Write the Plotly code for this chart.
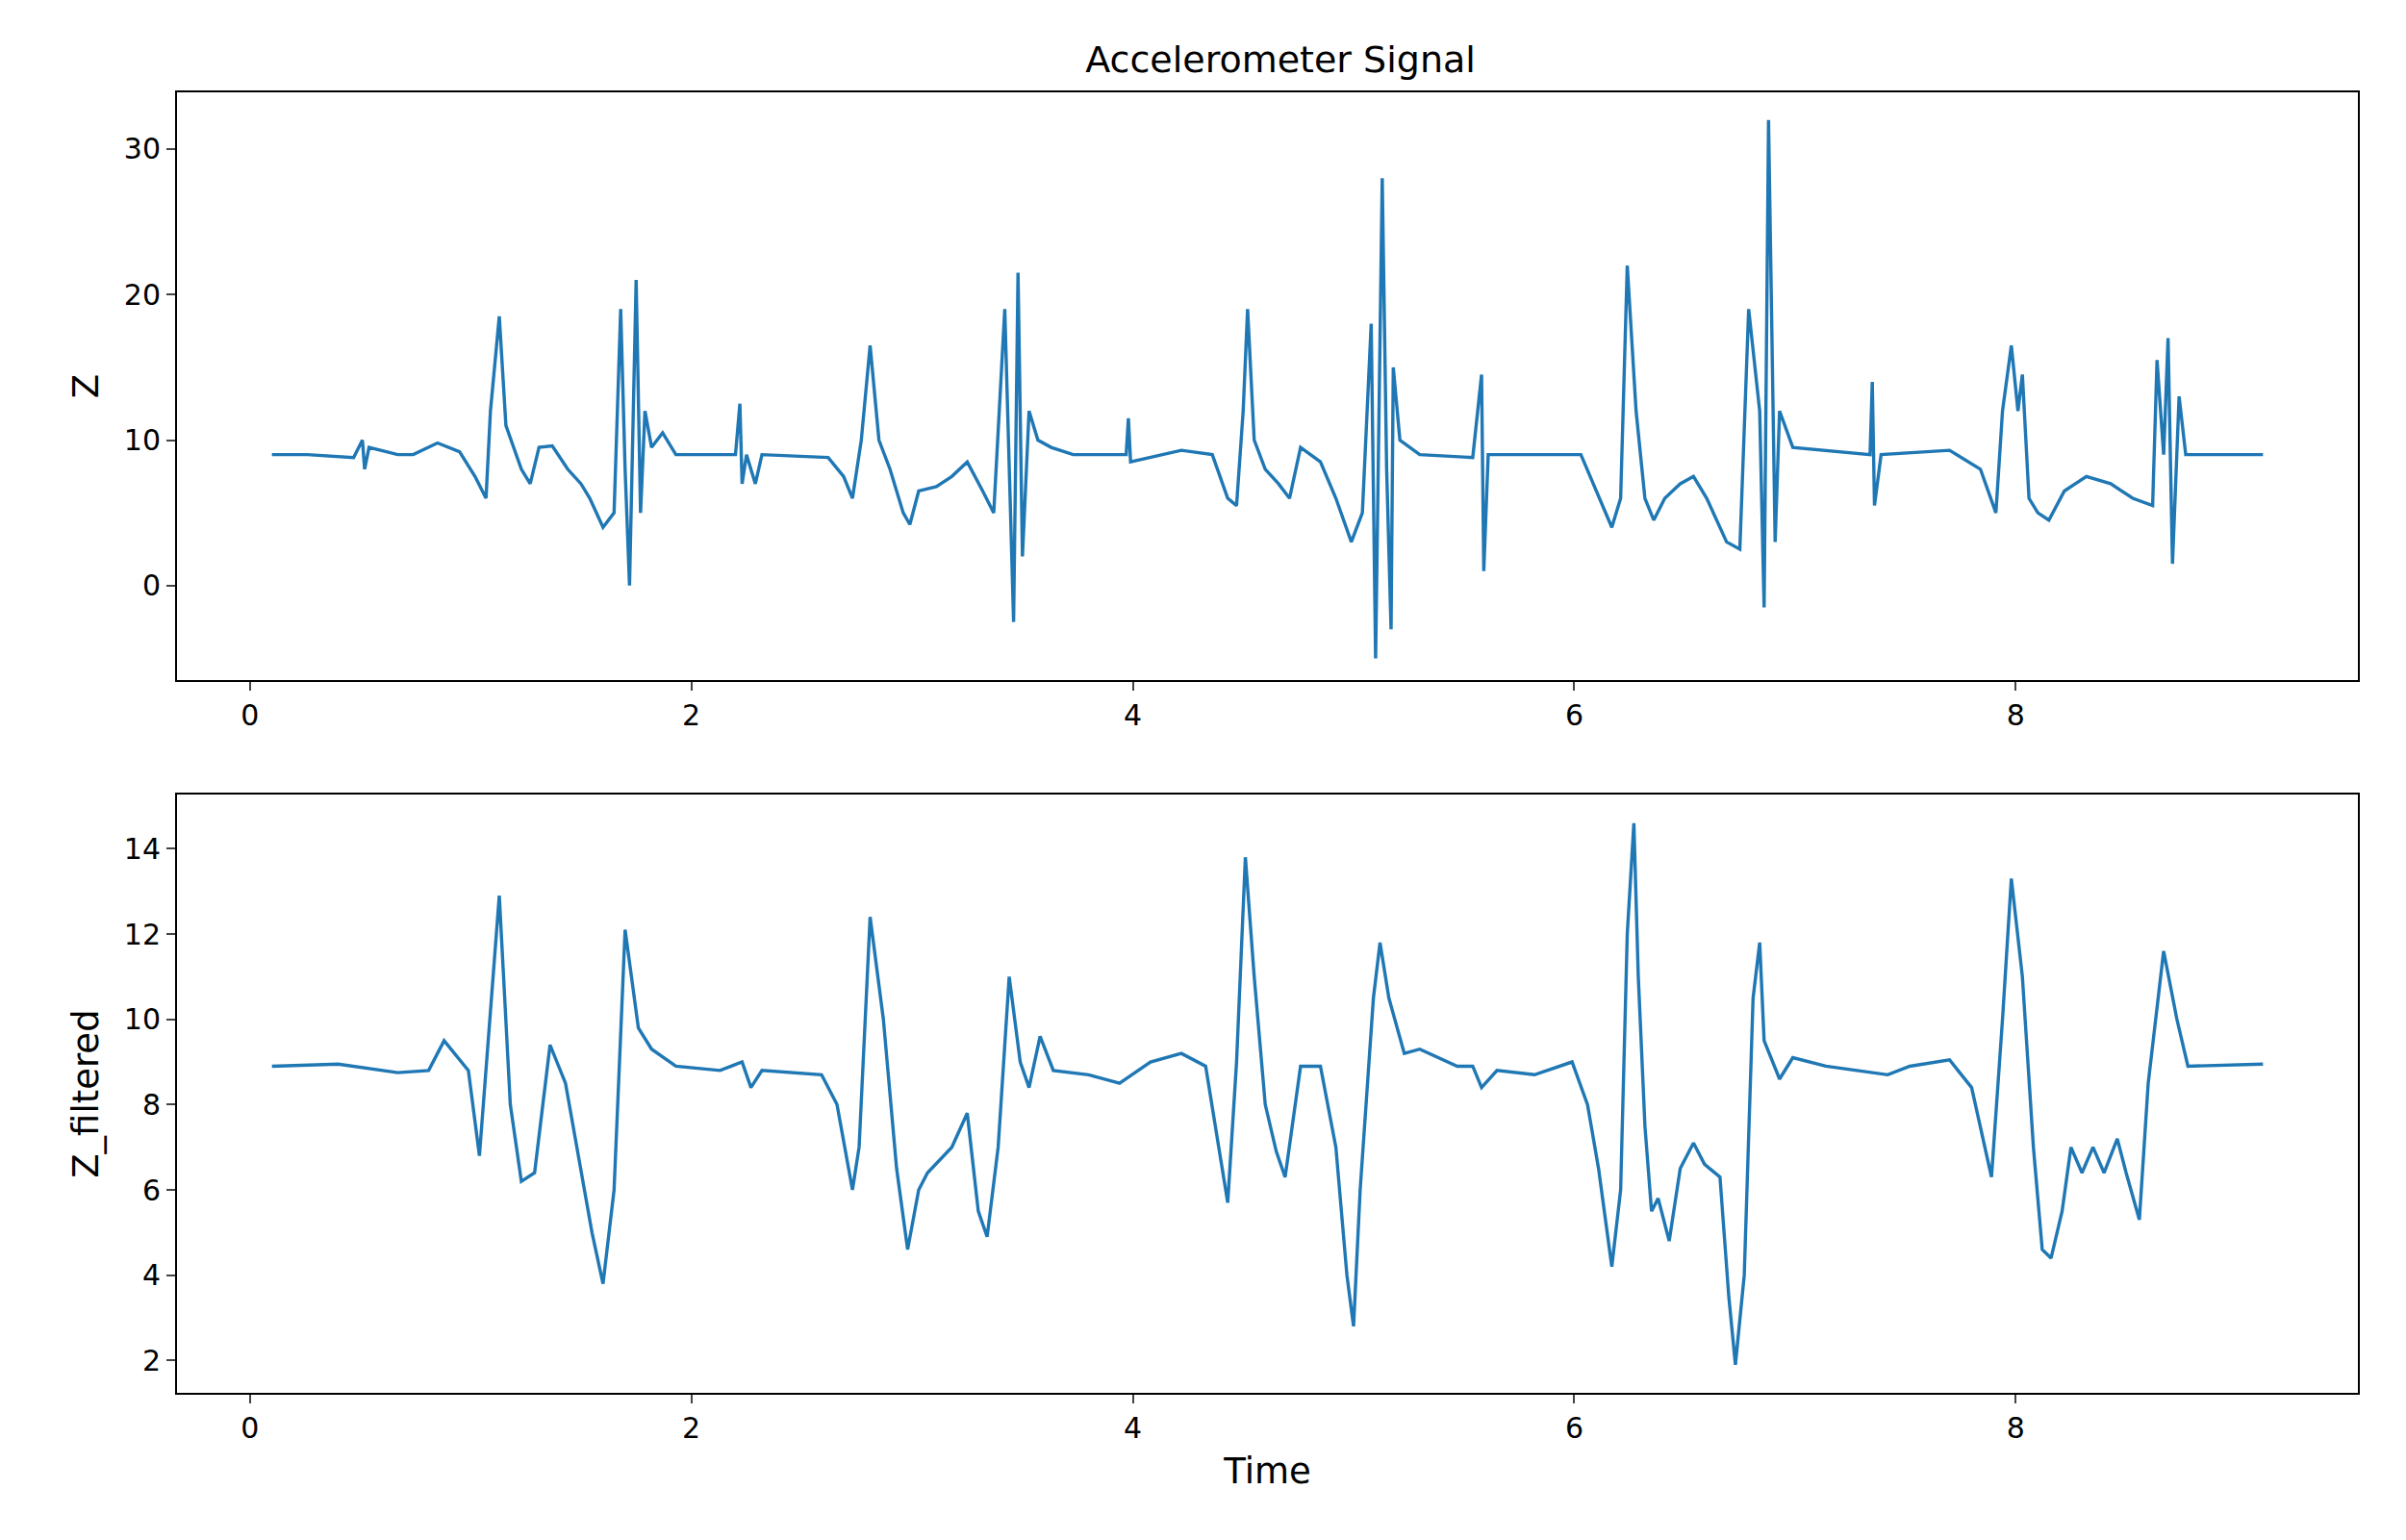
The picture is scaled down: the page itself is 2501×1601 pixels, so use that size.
import plotly.graph_objects as go
from plotly.subplots import make_subplots

raw_t = [0.10,0.26,0.47,0.51,0.52,0.54,0.67,0.74,0.85,0.95,1.02,1.07,1.09,1.13,1.16,1.23,1.27,1.31,1.37,1.44,1.50,1.54,1.60,1.65,1.68,1.70,1.72,1.75,1.77,1.79,1.82,1.87,1.93,2.20,2.22,2.23,2.25,2.29,2.32,2.62,2.69,2.73,2.77,2.81,2.85,2.90,2.96,2.99,3.03,3.11,3.18,3.25,3.32,3.37,3.42,3.44,3.46,3.48,3.50,3.53,3.57,3.63,3.73,3.97,3.98,3.99,4.22,4.36,4.43,4.47,4.50,4.52,4.55,4.60,4.66,4.71,4.76,4.85,4.92,4.99,5.04,5.08,5.10,5.13,5.15,5.17,5.18,5.21,5.30,5.54,5.58,5.59,5.61,6.03,6.10,6.17,6.21,6.24,6.28,6.32,6.36,6.41,6.48,6.54,6.60,6.69,6.75,6.79,6.84,6.86,6.88,6.91,6.93,6.99,7.34,7.35,7.36,7.39,7.70,7.84,7.91,7.94,7.98,8.01,8.03,8.06,8.10,8.15,8.22,8.32,8.43,8.53,8.62,8.64,8.67,8.69,8.71,8.74,8.77,9.12]
raw_z = [9,9,8.8,10,8,9.5,9,9,9.8,9.2,7.5,6,12,18.5,11,8,7,9.5,9.6,8,7,6,4,5,19,8,0,21,5,12,9.5,10.5,9,9,12.5,7,9,7,9,8.8,7.5,6,10,16.5,10,8,5,4.2,6.5,6.8,7.5,8.5,6.5,5,19,8,-2.5,21.5,2,12,10,9.5,9,9,11.5,8.5,9.3,9,6,5.5,12,19,10,8,7,6,9.5,8.5,6,3,5,18,-5,28,8,-3,15,10,9,8.8,14.5,1,9,9,6.5,4,6,22,12,6,4.5,6,7,7.5,6,3,2.5,19,12,-1.5,32,3,12,9.5,9,14,5.5,9,9.3,8,5,12,16.5,12,14.5,6,5,4.5,6.5,7.5,7,6,5.5,15.5,9,17,1.5,13,9,9]

filt_t = [0.10,0.40,0.67,0.81,0.88,0.99,1.04,1.13,1.18,1.23,1.29,1.36,1.43,1.50,1.55,1.60,1.65,1.70,1.76,1.82,1.93,2.13,2.23,2.27,2.32,2.59,2.66,2.73,2.76,2.81,2.87,2.93,2.98,3.03,3.07,3.18,3.25,3.30,3.34,3.39,3.44,3.49,3.53,3.58,3.64,3.80,3.94,4.08,4.22,4.33,4.39,4.43,4.47,4.51,4.55,4.60,4.65,4.69,4.76,4.85,4.92,4.97,5.00,5.03,5.09,5.12,5.16,5.23,5.30,5.47,5.54,5.58,5.65,5.82,5.99,6.06,6.11,6.17,6.21,6.24,6.27,6.29,6.32,6.35,6.38,6.43,6.48,6.54,6.59,6.66,6.70,6.73,6.77,6.81,6.84,6.86,6.93,6.99,7.14,7.42,7.52,7.70,7.80,7.89,7.94,7.98,8.03,8.08,8.12,8.16,8.21,8.25,8.30,8.35,8.40,8.46,8.50,8.56,8.60,8.67,8.73,8.78,9.12]
filt_z = [8.9,8.95,8.75,8.8,9.5,8.8,6.8,12.9,8,6.2,6.4,9.4,8.5,6.5,5,3.8,6,12.1,9.8,9.3,8.9,8.8,9.0,8.4,8.8,8.7,8,6,7,12.4,10,6.5,4.6,6,6.4,7,7.8,5.5,4.9,7,11,9,8.4,9.6,8.8,8.7,8.5,9,9.2,8.9,7,5.7,9,13.8,11,8,6.9,6.3,8.9,8.9,7,4,2.8,6,10.5,11.8,10.5,9.2,9.3,8.9,8.9,8.4,8.8,8.7,9.0,8,6.5,4.2,6,12,14.6,11,7.5,5.5,5.8,4.8,6.5,7.1,6.6,6.3,3.5,1.9,4,10.5,11.8,9.5,8.6,9.1,8.9,8.7,8.9,9.05,8.4,6.3,10,13.3,11,7,4.6,4.4,5.5,7.0,6.4,7.0,6.4,7.2,6.4,5.3,8.5,11.6,10,8.9,8.95]

color = "#1f77b4"
fig = make_subplots(rows=2, cols=1)
fig.add_trace(go.Scatter(x=raw_t, y=raw_z, mode="lines", line=dict(color=color, width=3.4)), row=1, col=1)
fig.add_trace(go.Scatter(x=filt_t, y=filt_z, mode="lines", line=dict(color=color, width=3.4)), row=2, col=1)

ax = dict(showline=True, linecolor="black", linewidth=2, mirror=True, ticks="outside",
          ticklen=9, tickwidth=2, showgrid=False, zeroline=False,
          tickfont=dict(size=30, color="black"))
fig.update_xaxes(**ax, range=[-0.33, 9.55], tickvals=[0, 2, 4, 6, 8])
fig.update_yaxes(**ax)
fig.update_yaxes(range=[-6.5, 33.9], tickvals=[0, 10, 20, 30], title=dict(text="Z", font=dict(size=37)), row=1, col=1)
fig.update_yaxes(range=[1.24, 15.27], tickvals=[2, 4, 6, 8, 10, 12, 14], title=dict(text="Z_filtered", font=dict(size=37)), row=2, col=1)
fig.update_xaxes(title=dict(text="Time", font=dict(size=37)), row=2, col=1)
fig.update_layout(
    width=2501, height=1601, showlegend=False,
    plot_bgcolor="white", paper_bgcolor="white",
    font=dict(family="DejaVu Sans", color="black"),
    margin=dict(l=176, r=58, t=88, b=161),
    title=dict(text="Accelerometer Signal", x=0.529, xanchor="center", y=0.975, font=dict(size=38)),
)
fig.layout.yaxis.domain = [0.548, 1.0]
fig.layout.yaxis2.domain = [0.0, 0.46]
fig.write_html("out.html")
